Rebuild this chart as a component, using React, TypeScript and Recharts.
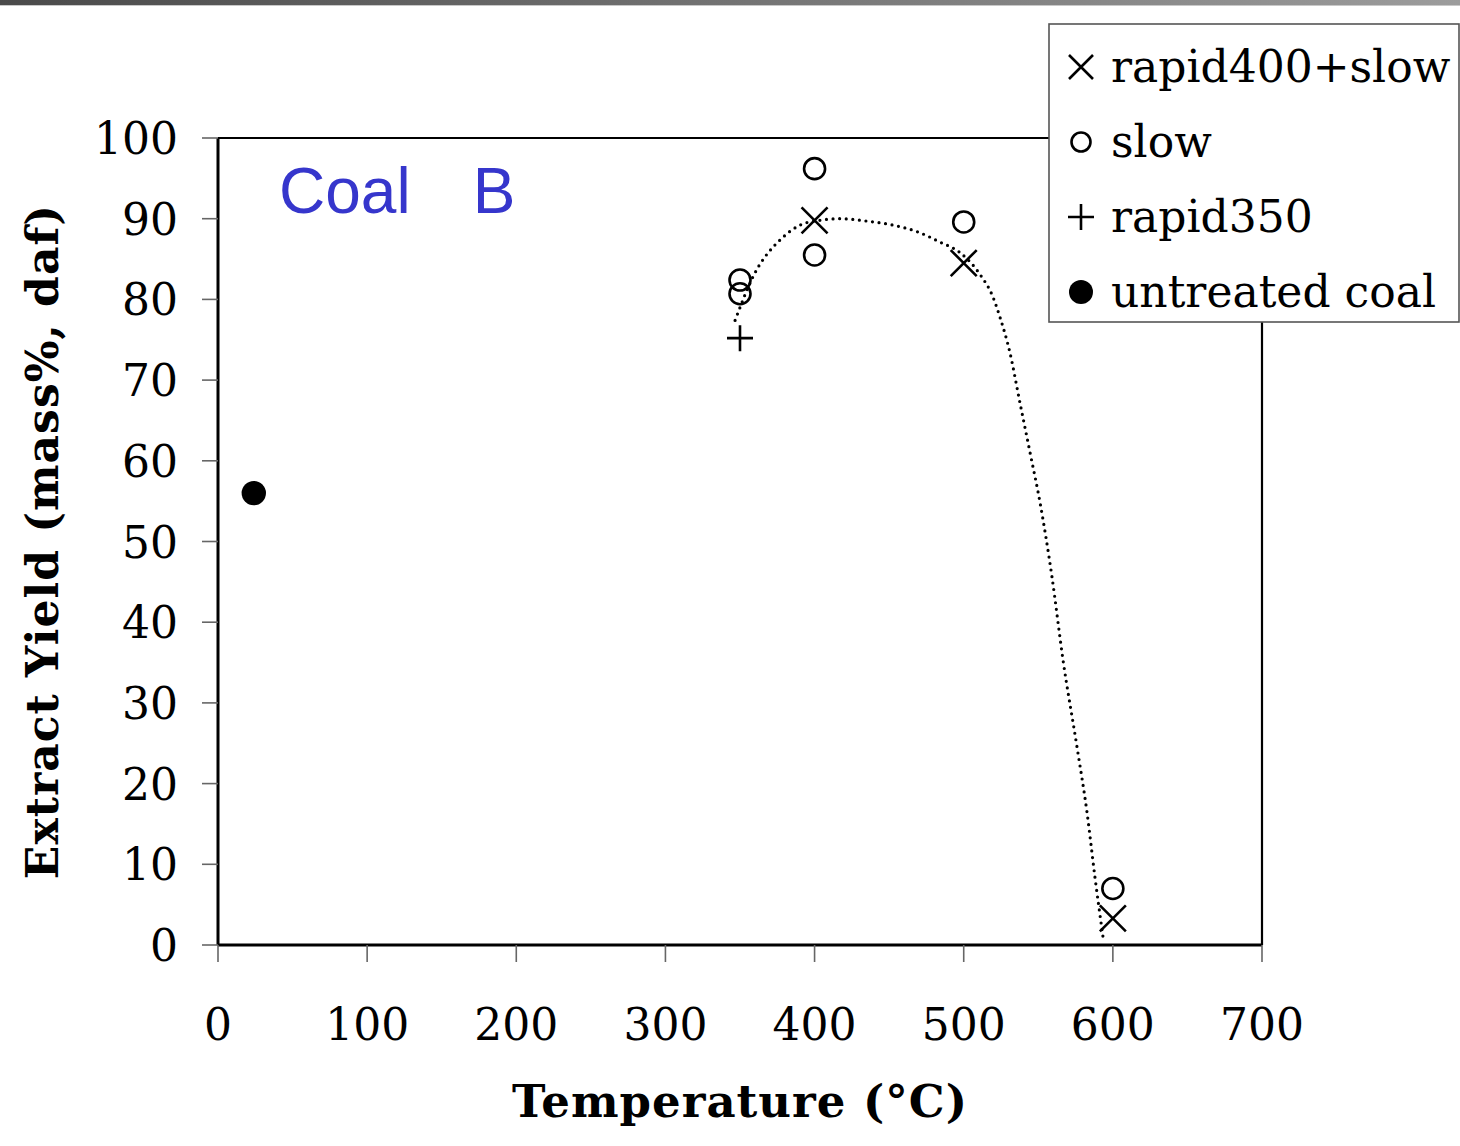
import React from "react";
import { ScatterChart, Scatter, XAxis, YAxis, ReferenceLine, Legend } from "recharts";

// axis ticks
const xTicks = [0, 100, 200, 300, 400, 500, 600, 700];
const yTicks = [0, 10, 20, 30, 40, 50, 60, 70, 80, 90, 100];

// measured extract yields (mass%, daf) by pretreatment temperature (°C)
const rapidSlowTemp = [400, 500, 600];
const rapidSlowYield = [89.8, 84.5, 3.3];

const slowTemp = [350, 350, 400, 400, 500, 600];
const slowYield = [82.4, 80.7, 96.2, 85.5, 89.6, 7.0];

const rapid350Temp = [350];
const rapid350Yield = [75.2];

const rawTemp = [24];
const rawYield = [56.0];

// hand-drawn trend curve through the pretreated samples
const trendTemp = [
  346.7, 358.7, 378.8, 390.2, 403.6, 417.1, 435.2, 452.6, 468.7, 484.1, 497.5,
  510.9, 519.6, 524.3, 531.0, 537.7, 544.5, 551.2, 559.2, 566.6, 576.0, 582.7,
  588.0, 593.4,
];
const trendYield = [
  77.4, 82.8, 87.7, 89.2, 89.8, 90.0, 89.7, 89.2, 88.4, 87.1, 85.8, 83.1, 80.3,
  77.8, 73.4, 67.2, 61.0, 54.8, 45.6, 35.3, 24.5, 16.4, 8.4, 1.0,
];

const zip = (xs: number[], ys: number[]) => xs.map((t, i) => ({ t, y: ys[i] }));

const SERIF = "'DejaVu Serif', serif";

const Cross = ({ cx, cy, s = 13 }: any) => (
  <path
    d={`M${cx - s},${cy - s}L${cx + s},${cy + s}M${cx - s},${cy + s}L${cx + s},${cy - s}`}
    stroke="#000"
    strokeWidth={2.6}
    fill="none"
  />
);
const Ring = ({ cx, cy, r = 10.5 }: any) => (
  <circle cx={cx} cy={cy} r={r} stroke="#000" strokeWidth={2.6} fill="none" />
);
const Plus = ({ cx, cy, s = 13 }: any) => (
  <path
    d={`M${cx - s},${cy}L${cx + s},${cy}M${cx},${cy - s}L${cx},${cy + s}`}
    stroke="#000"
    strokeWidth={2.6}
    fill="none"
  />
);
const Dot = ({ cx, cy, r = 12.2 }: any) => <circle cx={cx} cy={cy} r={r} fill="#000" />;
const NoShape = () => <g />;

const XTick = ({ x, y, payload }: any) => (
  <text x={x} y={y} dy={76} textAnchor="middle" fontFamily={SERIF} fontSize={44} fill="#000">
    {payload.value}
  </text>
);
const YTick = ({ x, y, payload }: any) => (
  <text x={x} y={y} dy={16} textAnchor="end" fontFamily={SERIF} fontSize={44} fill="#000">
    {payload.value}
  </text>
);

const legendRows = [
  { label: "rapid400+slow", mark: "cross" },
  { label: "slow", mark: "ring" },
  { label: "rapid350", mark: "plus" },
  { label: "untreated coal", mark: "dot" },
];

const LegendBox = () => (
  <svg width={412} height={300} style={{ display: "block" }}>
    <rect x={1} y={1} width={410} height={298} fill="#fff" stroke="#555" strokeWidth={1.6} />
    {legendRows.map((row, i) => {
      const base = 59 + i * 75;
      const cy = base - 15;
      return (
        <g key={row.label}>
          {row.mark === "cross" && <Cross cx={33} cy={cy} s={12} />}
          {row.mark === "ring" && <Ring cx={33} cy={cy} r={9.5} />}
          {row.mark === "plus" && <Plus cx={33} cy={cy} s={13} />}
          {row.mark === "dot" && <Dot cx={33} cy={cy} r={12} />}
          <text x={63} y={base} fontFamily={SERIF} fontSize={44} fill="#000">
            {row.label}
          </text>
        </g>
      );
    })}
  </svg>
);

const App: React.FC = () => {
  return (
    <div style={{ position: "absolute", left: 0, top: 0, width: 1460, height: 1146, background: "#fff" }}>
      <div
        style={{
          position: "absolute",
          left: 0,
          top: 0,
          width: 1460,
          height: 5,
          background: "linear-gradient(to right, #4a4a4a, #9c9c9c)",
          borderBottom: "1px solid #c8c8c8",
        }}
      />
      <ScatterChart width={1460} height={1146} margin={{ top: 138, right: 198, bottom: 81, left: 98 }}>
        <XAxis
          type="number"
          dataKey="t"
          domain={[0, 700]}
          ticks={xTicks}
          interval={0}
          axisLine={{ stroke: "#000", strokeWidth: 3 }}
          tickLine={{ stroke: "#666", strokeWidth: 1.6 }}
          tickSize={17}
          tick={<XTick />}
          height={120}
          label={{
            content: ({ viewBox }: any) => (
              <text
                x={viewBox.x + viewBox.width / 2}
                y={viewBox.y + 172}
                textAnchor="middle"
                fontFamily={SERIF}
                fontWeight="bold"
                fontSize={45}
                letterSpacing={1}
                fill="#000"
              >
                Temperature (°C)
              </text>
            ),
          }}
        />
        <YAxis
          type="number"
          dataKey="y"
          domain={[0, 100]}
          ticks={yTicks}
          interval={0}
          width={120}
          axisLine={{ stroke: "#000", strokeWidth: 3 }}
          tickLine={{ stroke: "#666", strokeWidth: 1.6 }}
          tickSize={16}
          tickMargin={24}
          tick={<YTick />}
          label={{
            content: ({ viewBox }: any) => {
              const cy = viewBox.y + viewBox.height / 2;
              return (
                <text
                  x={58}
                  y={cy}
                  transform={`rotate(-90, 58, ${cy})`}
                  textAnchor="middle"
                  fontFamily={SERIF}
                  fontWeight="bold"
                  fontSize={44}
                  letterSpacing={1}
                  fill="#000"
                >
                  Extract Yield (mass%, daf)
                </text>
              );
            },
          }}
        />
        <ReferenceLine y={100} stroke="#000" strokeWidth={2.2} />
        <ReferenceLine x={700} stroke="#000" strokeWidth={2.2} />
        <Scatter
          name="trend"
          data={zip(trendTemp, trendYield)}
          shape={<NoShape />}
          line={{ stroke: "#000", strokeWidth: 3.2, strokeDasharray: "0 6.6", strokeLinecap: "round" }}
          lineJointType="monotoneX"
          legendType="none"
          isAnimationActive={false}
        />
        <Scatter name="slow" data={zip(slowTemp, slowYield)} shape={<Ring />} isAnimationActive={false} />
        <Scatter
          name="rapid400+slow"
          data={zip(rapidSlowTemp, rapidSlowYield)}
          shape={<Cross />}
          isAnimationActive={false}
        />
        <Scatter name="rapid350" data={zip(rapid350Temp, rapid350Yield)} shape={<Plus />} isAnimationActive={false} />
        <Scatter name="untreated coal" data={zip(rawTemp, rawYield)} shape={<Dot />} isAnimationActive={false} />
        <Legend
          layout="horizontal"
          verticalAlign="middle"
          align="center"
          width={412}
          height={300}
          wrapperStyle={{ left: 1048, top: 23, width: 412, height: 300 }}
          content={() => <LegendBox />}
        />
      </ScatterChart>
      <div
        style={{
          position: "absolute",
          left: 279,
          top: 155,
          fontFamily: "'Liberation Sans', Arial, sans-serif",
          fontSize: 64,
          color: "#3636CC",
          lineHeight: "72px",
          whiteSpace: "nowrap",
        }}
      >
        <span>Coal</span>
        <span style={{ marginLeft: 62 }}>B</span>
      </div>
    </div>
  );
};

export default App;
